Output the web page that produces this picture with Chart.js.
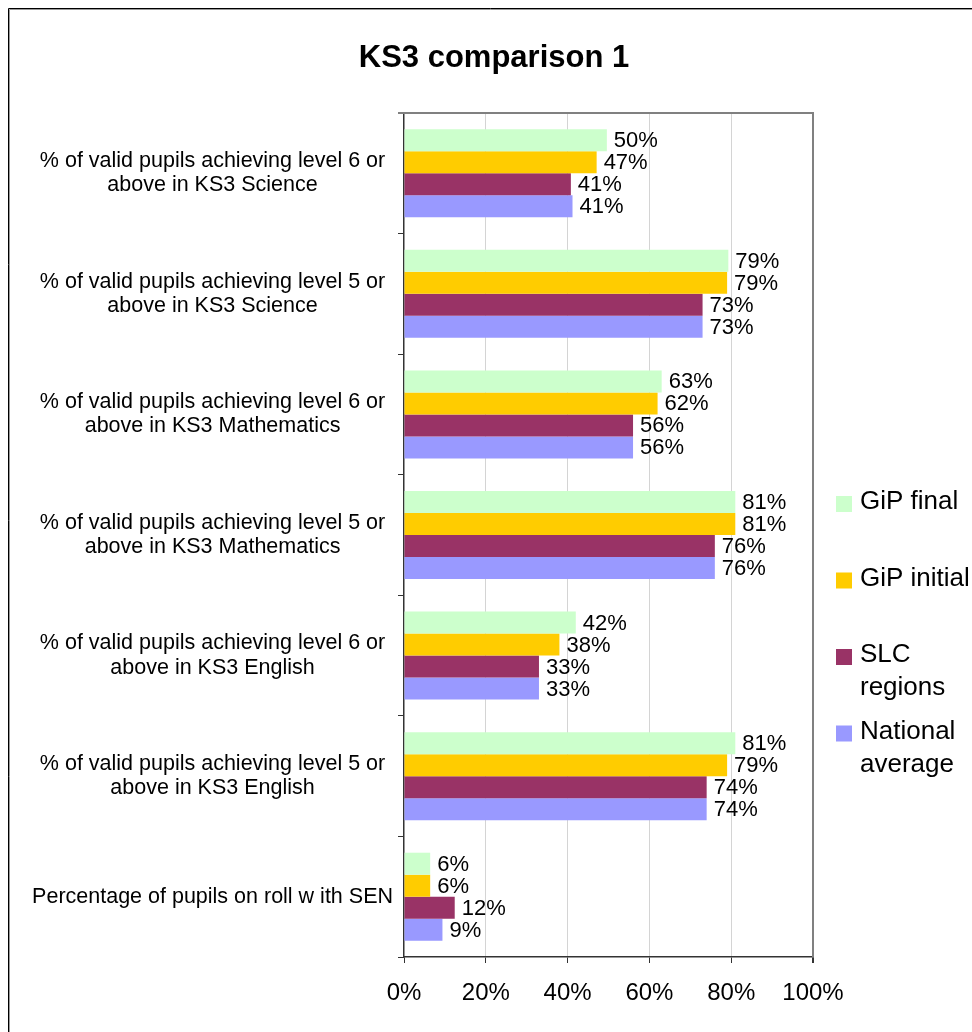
<!DOCTYPE html>
<html>
<head>
<meta charset="utf-8">
<title>KS3 comparison 1</title>
<script src="https://cdn.jsdelivr.net/npm/chart.js@4.4.1/dist/chart.umd.min.js"></script>
<style>
  html, body { margin: 0; padding: 0; background: #fff; }
  #wrap { position: relative; width: 972px; height: 1032px; }
</style>
</head>
<body>
<div id="wrap"><canvas id="ks3Chart"></canvas></div>
<script>
// categories (top to bottom) and series values
const categories = [
  ['% of valid pupils achieving level 6 or', 'above in KS3 Science'],
  ['% of valid pupils achieving level 5 or', 'above in KS3 Science'],
  ['% of valid pupils achieving level 6 or', 'above in KS3 Mathematics'],
  ['% of valid pupils achieving level 5 or', 'above in KS3 Mathematics'],
  ['% of valid pupils achieving level 6 or', 'above in KS3 English'],
  ['% of valid pupils achieving level 5 or', 'above in KS3 English'],
  'Percentage of pupils on roll w ith SEN'
];
const seriesNames = ['GiP final', 'GiP initial', 'SLC regions', 'National average'];
const legendLines = [['GiP final'], ['GiP initial'], ['SLC', 'regions'], ['National', 'average']];
const gipFinal   = [49.6, 79.3, 63, 81, 42, 81, 6.4];
const gipInitial = [47.1, 79, 62, 81, 38, 79, 6.4];
const slcRegions = [40.8, 73, 56, 76, 33, 74, 12.4];
const national   = [41.2, 73, 56, 76, 33, 74, 9.4];
const xTicks = [0, 20, 40, 60, 80, 100];

const colors = ['#CCFFCC', '#FFCC00', '#993366', '#9999FF'];
const FONT = '"Liberation Sans", Arial, sans-serif';

// frame, title, plot border, value labels and legend
const decor = {
  id: 'decor',
  beforeDraw(chart) {
    const { ctx, width, height } = chart;
    ctx.save();
    ctx.fillStyle = '#fff';
    ctx.fillRect(0, 0, width, height);
    ctx.strokeStyle = '#000';
    ctx.lineWidth = 1;
    ctx.beginPath();
    ctx.moveTo(width, 8.5); ctx.lineTo(8.5, 8.5); ctx.lineTo(8.5, height);
    ctx.stroke();
    ctx.strokeStyle = '#999';
    ctx.beginPath();
    ctx.moveTo(width, 9.5); ctx.lineTo(9.5, 9.5); ctx.lineTo(9.5, height);
    ctx.stroke();
    ctx.restore();
  },
  afterDraw(chart) {
    const { ctx, chartArea: a } = chart;
    ctx.save();
    // title
    ctx.fillStyle = '#000';
    ctx.font = 'bold 31px ' + FONT;
    ctx.textAlign = 'center';
    ctx.textBaseline = 'middle';
    ctx.fillText('KS3 comparison 1', 494, 58);
    // top plot border
    ctx.strokeStyle = '#808080';
    ctx.lineWidth = 2;
    ctx.beginPath();
    ctx.moveTo(a.left - 6, a.top); ctx.lineTo(a.right, a.top); ctx.lineTo(a.right, a.bottom);
    ctx.stroke();
    // value labels
    ctx.font = '22px ' + FONT;
    ctx.textAlign = 'left';
    chart.data.datasets.forEach((ds, i) => {
      chart.getDatasetMeta(i).data.forEach((bar, j) => {
        ctx.fillText(Math.round(ds.data[j]) + '%', bar.x + 7, bar.y + 1);
      });
    });
    // legend
    ctx.font = '26px ' + FONT;
    let y = 502;
    chart.data.datasets.forEach((ds, i) => {
      ctx.fillStyle = ds.backgroundColor;
      ctx.fillRect(a.right + 23, y - 6, 16, 16);
      ctx.fillStyle = '#000';
      legendLines[i].forEach((line, k) => ctx.fillText(line, a.right + 47, y + k * 33));
      y += 76.5;
    });
    ctx.restore();
  }
};

new Chart(document.getElementById('ks3Chart'), {
  type: 'bar',
  data: {
    labels: categories,
    datasets: [gipFinal, gipInitial, slcRegions, national].map((d, i) => ({
      label: seriesNames[i],
      data: d,
      backgroundColor: colors[i],
      borderWidth: 0,
      categoryPercentage: 0.73,
      barPercentage: 1.0
    }))
  },
  options: {
    indexAxis: 'y',
    responsive: true,
    maintainAspectRatio: false,
    animation: false,
    layout: { padding: { top: 113, right: 159, left: 0, bottom: 0 } },
    plugins: {
      legend: { display: false },
      title: { display: false },
      tooltip: { enabled: false }
    },
    scales: {
      x: {
        min: 0,
        max: 100,
        afterBuildTicks: s => { s.ticks = xTicks.map(v => ({ value: v })); },
        afterFit: s => { s.height = 75; },
        border: { display: true, color: '#333', width: 1.5 },
        grid: {
          color: c => c.index === 0 ? 'rgba(0,0,0,0)' : (c.index === 5 ? '#808080' : '#d4d4d4'),
          lineWidth: c => c.index === 5 ? 2 : 1,
          tickColor: '#333',
          tickLength: 6
        },
        ticks: {
          color: '#000',
          padding: 16,
          font: { family: FONT, size: 24 },
          callback: v => v + '%'
        }
      },
      y: {
        afterFit: s => { s.width = 404; },
        border: { display: true, color: '#333', width: 1.5 },
        grid: {
          drawOnChartArea: false,
          drawTicks: true,
          tickLength: 6,
          tickColor: '#333',
          offset: true
        },
        ticks: {
          color: '#000',
          crossAlign: 'center',
          padding: 5,
          font: { family: FONT, size: 21.5, lineHeight: 1.12 }
        }
      }
    }
  },
  plugins: [decor]
});
</script>
</body>
</html>
